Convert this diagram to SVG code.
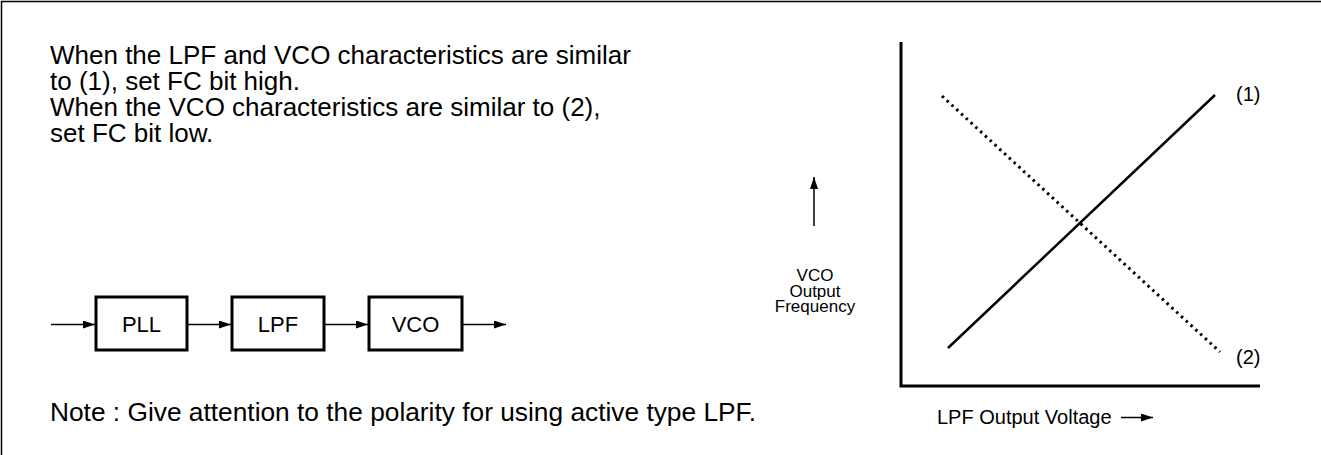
<svg xmlns="http://www.w3.org/2000/svg" width="1321" height="455" viewBox="0 0 1321 455">
<defs>
<style>
text{font-family:"Liberation Sans",Arial,sans-serif;fill:#000}
.main{font-size:26px}
.box{fill:#fff;stroke:#000;stroke-width:3}
.lbl{font-size:22px;text-anchor:middle}
.small{font-size:17px;text-anchor:middle}
.axis{font-size:20px}
.num{font-size:20px}
.ln{stroke:#000;fill:none;stroke-width:1.5}
</style>
<marker id="ah" viewBox="0 0 12 8" refX="12" refY="4" markerWidth="12" markerHeight="8" markerUnits="userSpaceOnUse" orient="auto"><path d="M0,0 L12,4 L0,8 z" fill="#000"/></marker>
</defs>
<rect width="1321" height="455" fill="#fff"/>
<path d="M1.5,455 V1.5 H1321" fill="none" stroke="#000" stroke-width="1.5"/>
<g id="description">
<text class="main" x="50" y="63.5">When the LPF and VCO characteristics are similar</text>
<text class="main" x="50" y="89.5">to (1), set FC bit high.</text>
<text class="main" x="50" y="115.5">When the VCO characteristics are similar to (2),</text>
<text class="main" x="50" y="141.5">set FC bit low.</text>
</g>
<g id="note"><text class="main" x="50" y="421" style="font-size:26.3px">Note : Give attention to the polarity for using active type LPF.</text></g>
<g id="pll"><rect class="box" x="96" y="297" width="91" height="53"/><text class="lbl" x="141.5" y="332">PLL</text></g>
<g id="lpf"><rect class="box" x="232" y="297" width="92" height="53"/><text class="lbl" x="278" y="332">LPF</text></g>
<g id="vco"><rect class="box" x="369" y="297" width="93" height="53"/><text class="lbl" x="415.5" y="332">VCO</text></g>
<g id="connectors">
<line class="ln" x1="51" y1="324.5" x2="95" y2="324.5" marker-end="url(#ah)"/>
<line class="ln" x1="188" y1="324.5" x2="231" y2="324.5" marker-end="url(#ah)"/>
<line class="ln" x1="325" y1="324.5" x2="368" y2="324.5" marker-end="url(#ah)"/>
<line class="ln" x1="463" y1="324.5" x2="506" y2="324.5" marker-end="url(#ah)"/>
</g>
<g id="graph">
<path d="M901,42 V386 H1260" fill="none" stroke="#000" stroke-width="3"/>
<line x1="948" y1="348" x2="1215" y2="95" stroke="#000" stroke-width="2.5"/>
<line x1="942" y1="96" x2="1220" y2="352" stroke="#000" stroke-width="3" stroke-dasharray="2.5,4"/>
<text class="num" x="1236" y="101">(1)</text>
<text class="num" x="1236" y="364">(2)</text>
<line class="ln" x1="814" y1="226" x2="814" y2="177" marker-end="url(#ah)"/>
<text class="small" x="815" y="281">VCO</text>
<text class="small" x="815" y="296.5">Output</text>
<text class="small" x="815" y="312">Frequency</text>
<text class="axis" x="937" y="424">LPF Output Voltage</text>
<line class="ln" x1="1121" y1="417.5" x2="1153" y2="417.5" marker-end="url(#ah)"/>
</g>
</svg>
